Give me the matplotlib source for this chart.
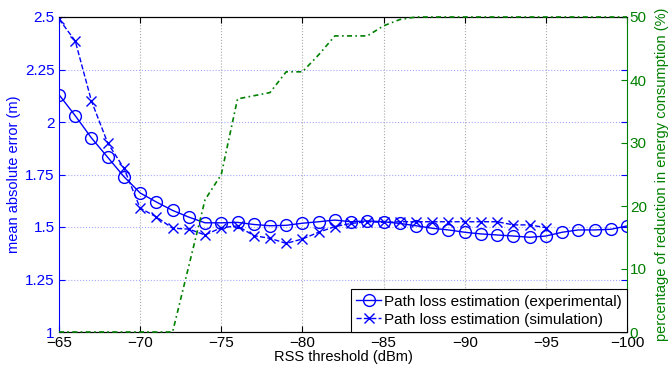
import numpy as np
import matplotlib.pyplot as plt
from matplotlib.ticker import FormatStrFormatter

plt.rcParams['font.family'] = ['Liberation Sans', 'DejaVu Sans']
plt.rcParams['font.size'] = 11

# RSS threshold (dBm)
rss = [-65, -66, -67, -68, -69, -70, -71, -72, -73, -74, -75, -76,
       -77, -78, -79, -80, -81, -82, -83, -84, -85, -86, -87, -88,
       -89, -90, -91, -92, -93, -94, -95, -96, -97, -98, -99, -100]

# mean absolute error (m), experimental, -65 ... -100
mae_exp = [2.13, 2.03, 1.924, 1.832, 1.74, 1.662, 1.619, 1.579, 1.547, 1.52,
           1.52, 1.522, 1.512, 1.506, 1.508, 1.518, 1.525, 1.533, 1.525, 1.529,
           1.525, 1.517, 1.506, 1.494, 1.486, 1.475, 1.467, 1.462, 1.457, 1.451,
           1.457, 1.475, 1.486, 1.486, 1.489, 1.505]

# mean absolute error (m), simulation, -65 ... -95
mae_sim = [2.49, 2.386, 2.10, 1.90, 1.78, 1.59, 1.548, 1.494, 1.49, 1.462,
           1.497, 1.505, 1.459, 1.446, 1.422, 1.443, 1.475, 1.502, 1.517, 1.525,
           1.522, 1.525, 1.525, 1.525, 1.525, 1.525, 1.525, 1.525, 1.51, 1.51,
           1.497]

# reduction in energy consumption (%), -65 ... -100
energy = [0, 0, 0, 0, 0, 0, 0, 0, 10.5, 21, 25, 37, 37.5, 38, 41.3, 41.3,
          44, 47, 47, 47, 48.6, 49.6, 50, 50, 50, 50, 50, 50, 50, 50,
          50, 50, 50, 50, 50, 50]

blue = (0, 0, 1)
green = (0, 0.5, 0)

fig = plt.figure(figsize=(6.68, 3.69), dpi=100)
ax = fig.add_axes([59 / 668, 1 - 332 / 369, 568 / 668, 315 / 369])
ax2 = ax.twinx()

l1, = ax.plot(rss, mae_exp, '-o', color=blue, lw=1.0, ms=8.5, mfc='none',
              mew=1.0, label='Path loss estimation (experimental)')
l2, = ax.plot(rss[:len(mae_sim)], mae_sim, '--x', color=blue, lw=1.0, ms=6.5,
              mew=1.0, label='Path loss estimation (simulation)')
ax2.plot(rss, energy, linestyle=(0, (3, 2, 1, 2)), color=green, lw=1.2,
         zorder=3, clip_on=False)

ax.set_xlim(-65, -100)
ax.set_ylim(1, 2.5)
ax2.set_ylim(0, 50)
ax.set_xticks([-65, -70, -75, -80, -85, -90, -95, -100])
ax.set_yticks([1, 1.25, 1.5, 1.75, 2, 2.25, 2.5])
ax.yaxis.set_major_formatter(FormatStrFormatter('%g'))
ax2.set_yticks([0, 10, 20, 30, 40, 50])

# dotted grid: grey verticals, bluish horizontals
ax.xaxis.grid(True, linestyle=':', color='#a8a8a8', lw=0.8)
ax.yaxis.grid(True, linestyle=':', color='#a8a8ff', lw=0.8)
ax.set_axisbelow(True)

ax.tick_params(axis='x', direction='in', length=4, top=True, pad=3,
               colors='black', labelsize=11)
ax.tick_params(axis='y', direction='in', length=4, right=True, pad=3,
               colors=blue, labelsize=11)
ax2.tick_params(axis='y', direction='in', length=4, pad=2, colors=green,
                labelsize=11)

ax.spines['left'].set_color(blue)
ax.spines['right'].set_visible(False)
ax2.spines['left'].set_visible(False)
ax2.spines['right'].set_color(green)
for a in (ax, ax2):
    a.spines['top'].set_color('black')
    a.spines['bottom'].set_color('black')

ax.set_xlabel('RSS threshold (dBm)', fontsize=10.5, labelpad=0)
ax.set_ylabel('mean absolute error (m)', color=blue, fontsize=10.5, labelpad=3)
ax2.set_ylabel('percentage of reduction in energy consumption (%)',
               color=green, fontsize=10.5, labelpad=6)

leg = ax2.legend(handles=[l1, l2], loc='lower right', borderaxespad=0,
                 fontsize=11, fancybox=False, framealpha=1, edgecolor='black',
                 handlelength=1.6, handletextpad=0.2, borderpad=0.35,
                 labelspacing=0.25)
leg.get_frame().set_linewidth(0.8)
leg.set_zorder(5)

fig.savefig('out.png', dpi=100)
